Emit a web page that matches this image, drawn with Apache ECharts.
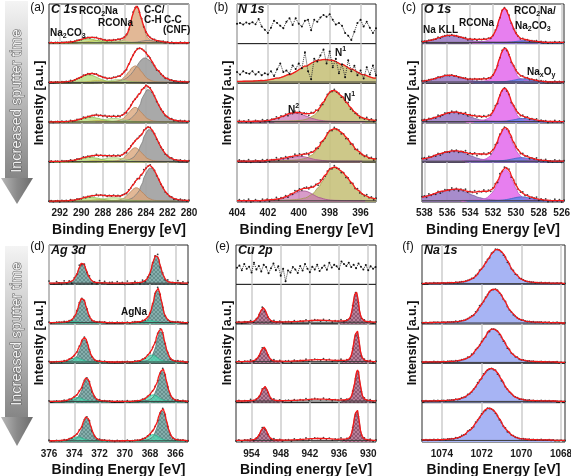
<!DOCTYPE html>
<html>
<head>
<meta charset="utf-8">
<title>XPS depth profile</title>
<script src="https://cdn.jsdelivr.net/npm/echarts@6/dist/echarts.min.js"></script>
<style>html,body{margin:0;padding:0;background:#fff}</style>
</head>
<body>
<div id="main" style="width:571px;height:476px"></div>
<script>
var lineShape = [1.000,0.992,0.969,0.933,0.885,0.829,0.766,0.700,0.632,0.565,0.500,
  0.438,0.381,0.329,0.281,0.239,0.203,0.172,0.145,0.122,0.104,
  0.088,0.076,0.066,0.057,0.051,0.045,0.041,0.037,0.034,0.031,
  0.029,0.027,0.026,0.024,0.023,0.021,0.020,0.019,0.019,0.018,
  0.017,0.016,0.015,0.015,0.014,0.014,0.013,0.012,0.012,0.012];

// components: [centre eV, HWHM high-BE side, HWHM low-BE side, height %], one entry per sputter step
var c1sNa2CO3 = [[289.4,1.0,1.0,10],[289.3,1.0,1.0,19],[289.1,1.1,1.1,12],[289.2,1.1,1.1,11],[289.1,1.1,1.1,10]];
var c1sRCO2Na = [[288.5,0.9,0.9,6],[288.5,0.8,0.8,5],[288.4,0.8,0.8,4],[288.3,0.8,0.8,4],[288.3,0.8,0.8,4]];
var c1sRCONa  = [[286.4,0.8,0.8,5],[286.6,0.9,0.9,7],[287.0,1.2,1.2,9],[287.0,1.2,1.2,10],[287.0,1.2,1.2,9]];
var c1sCCH    = [[284.9,0.55,0.6,90],[285.0,0.75,0.75,42],[285.0,0.75,0.75,37],[285.0,0.75,0.75,35],[284.9,0.75,0.75,34]];
var c1sCNF    = [[283.8,0.8,0.9,6],[284.1,1.0,1.15,62],[283.8,0.8,1.0,82],[283.7,0.8,1.0,81],[283.6,0.8,1.0,84]];
var c1sBg = [2,2,2,2,2];
var c1sTicks = [280,282,284,286,288,290,292];

var n1sN1 = [[398.3,1.8,1.9,0],[398.3,1.8,1.9,57],[397.75,0.8,1.0,78],[397.7,0.9,1.15,82],[397.7,0.9,1.15,84]];
var n1sN2 = [[400.2,1.0,0.9,0],[400.2,1.0,0.9,0],[400.2,1.0,0.9,21],[399.9,1.1,0.8,12],[399.7,0.9,0.8,25]];
var n1sBg = [0,3,3,3,3];
var n1sTicks = [396,398,400,402,404];
// raw counts of the two noisy top spectra, 404 -> 395 eV every 0.2 eV
var n1sRow1 = [50,52,48,53,50,54,49,62,43,35,27,40,58,52,45,39,55,64,47,64,50,43,58,60,34,60,55,66,72,68,74,60,48,52,45,27,20,9,30,52,60,43,55,40,27,39];
var n1sRow2 = [28,22,30,26,24,30,22,28,20,25,22,30,18,35,50,28,32,24,45,36,50,38,78,30,10,62,55,70,85,50,80,40,62,25,48,15,58,30,44,20,32,12,40,22,45,20];

var o1sNaKLL = [[535.7,1.3,1.3,18],[535.8,1.3,1.3,17],[535.4,1.5,1.4,24],[535.3,1.9,1.4,26],[535.3,2.2,1.5,29]];
var o1sRCONa = [[533.0,0.9,0.9,4],[533.0,0.9,0.9,4],[533.1,0.9,0.9,6],[533.0,0.8,0.8,10],[532.9,0.8,0.8,14]];
var o1sMain  = [[531.0,0.6,0.65,86],[531.0,0.6,0.7,84],[531.0,0.7,0.7,82],[530.95,0.75,0.75,82],[530.9,0.8,0.75,80]];
var o1sNaxOy = [[529.3,0.8,0.8,4],[529.4,0.9,0.9,8],[529.4,0.9,0.9,8],[529.5,1.0,1.0,9],[529.5,1.0,1.0,10]];
var o1sBg = [3,3,3,3,3];
var o1sTicks = [526,528,530,532,534,536,538];

var ag3d52   = [[367.5,0.42,0.38,72],[367.4,0.4,0.37,86],[367.15,0.42,0.38,80],[367.0,0.42,0.38,79],[367.0,0.42,0.38,78]];
var ag3d32   = [[373.35,0.42,0.38,52],[373.35,0.4,0.37,62],[373.18,0.42,0.38,59],[373.0,0.42,0.38,58],[373.0,0.42,0.38,59]];
var agNa52   = [[368.0,0.45,0.45,0],[368.0,0.45,0.45,5],[367.85,0.5,0.5,18],[367.75,0.5,0.5,17],[367.75,0.5,0.5,16]];
var agNa32   = [[374.0,0.45,0.45,0],[374.0,0.45,0.45,3],[373.85,0.5,0.5,11],[373.75,0.5,0.5,10],[373.75,0.5,0.5,10]];
var ag3dBg = [3,3,3,3,3];
var ag3dTicks = [366,368,370,372,374,376];

var cu2p32 = [[932.5,0.7,0.6,0],[932.5,0.7,0.6,78],[932.35,0.7,0.6,79],[932.2,0.7,0.6,78],[932.35,0.7,0.6,78]];
var cu2p12 = [[951.8,0.85,0.8,0],[951.6,0.85,0.8,37],[951.5,0.85,0.8,37],[951.3,0.85,0.8,37],[951.5,0.85,0.8,34]];
var cu2pSat = [[940,4,4,0],[940,4,4,5],[940,4,4,5],[940,4,4,5],[940,4,4,5]];
var cu2pBg = [4,4,4,4,4];
var cu2pTicks = [930,936,942,948,954];
// raw counts of the top Cu 2p spectrum, 957 -> 928.5 eV every 0.5 eV
var cu2pRow1 = [42,48,36,52,40,45,30,55,38,47,33,50,44,28,41,53,36,46,22,40,8,35,30,44,38,29,47,35,52,40,31,45,38,50,34,42,48,37,55,43,50,46,39,58,52,47,55,44,50,41,53,45,38,49,36,46,40,44];

var na1sPeak = [[1071.2,0.72,0.65,87],[1071.35,0.72,0.65,86],[1071.4,0.72,0.65,85],[1071.5,0.74,0.65,84],[1071.6,0.76,0.65,82]];
var na1sBg = [2,2,2,3,4];
var na1sTicks = [1068,1070,1072,1074];

// point scatter of the measured counts around the fit
var jitter = [0.3,-0.8,0.6,-0.2,0.9,-0.5,0.1,-1,0.7,-0.3,0.4,-0.7,1,-0.1,0.2,-0.9,0.5,-0.4,0.8,-0.6,0,0.6,-0.2,-0.8,0.9,-0.5,0.3,-0.1,0.7,-1,0.4];

var FONT_N = "'Liberation Sans Narrow','Liberation Sans',Arial,sans-serif";
var FONT = "'Liberation Sans',Arial,sans-serif";

function hatch(base, ink) {
    var cv = document.createElement('canvas');
    cv.width = 4; cv.height = 4;
    var g = cv.getContext('2d');
    g.fillStyle = base; g.fillRect(0, 0, 4, 4);
    g.strokeStyle = ink; g.lineWidth = 0.8;
    g.beginPath(); g.moveTo(0, 0); g.lineTo(4, 4); g.moveTo(4, 0); g.lineTo(0, 4); g.stroke();
    return {image: cv, repeat: 'repeat'};
}

var panels = [
    {left: 49, right: 189, top: 4, rowH: 39.6, min: 280, max: 293, step: 0.1, ticks: c1sTicks, bg: c1sBg,
     amp: [1.5, 1.5, 2, 2, 2], every: 2, margin: 6, nameGap: 21, name: 'Binding Energy [eV]',
     comps: [
        {d: c1sCNF, fill: '#a4a4a4', line: '#7c7c7c', a: 0.95},
        {d: c1sCCH, fill: '#dba67c', line: '#b9845a', a: 0.8},
        {d: c1sRCONa, fill: '#cfe8a4', line: '#a6c77a', a: 0.85},
        {d: c1sRCO2Na, fill: '#e8de7c', line: '#c4b64c', a: 0.8},
        {d: c1sNa2CO3, fill: '#b5dc7c', line: '#8cbc58', a: 0.8}]},
    {left: 237, right: 376, top: 4, rowH: 39.6, min: 395, max: 404, step: 0.05, ticks: n1sTicks, bg: n1sBg,
     amp: [0, 0, 4, 4, 4], every: 3, margin: 6, nameGap: 21, name: 'Binding Energy [eV]',
     raw: {0: n1sRow1, 1: n1sRow2}, rawX: [404, -0.2],
     comps: [
        {d: n1sN1, fill: '#c8c27c', line: '#a29a4e', a: 0.9},
        {d: n1sN2, fill: '#c872b4', line: '#a45090', a: 0.7}]},
    {left: 422, right: 564, top: 4, rowH: 39.6, min: 525.8, max: 538.2, step: 0.1, ticks: o1sTicks, bg: o1sBg,
     amp: [2, 2, 3, 3.5, 4], every: 2, margin: 6, nameGap: 21, name: 'Binding Energy [eV]',
     comps: [
        {d: o1sNaKLL, fill: '#9d80c6', line: '#7a5ea6', a: 0.9},
        {d: o1sRCONa, fill: null},
        {d: o1sMain, fill: '#e77fef', line: '#c45ccc', a: 1},
        {d: o1sNaxOy, fill: '#5f84e6', line: '#3e62c4', a: 0.85}]},
    {left: 49, right: 188, top: 245, rowH: 39.4, min: 365, max: 376, step: 0.05, ticks: ag3dTicks, bg: ag3dBg,
     amp: [6, 1.5, 1.5, 1.5, 1.5], every: 4, margin: 7, nameGap: 21, name: 'Binding Energy [eV]',
     comps: [
        {d: ag3d52, fill: hatch('#86aeac', '#5f8785'), line: '#4f7775', a: 1},
        {d: ag3d32, fill: hatch('#86aeac', '#5f8785'), line: '#4f7775', a: 1},
        {d: agNa52, fill: '#4fdcb4', line: '#2cb890', a: 0.7},
        {d: agNa32, fill: '#4fdcb4', line: '#2cb890', a: 0.7}]},
    {left: 236, right: 376, top: 245, rowH: 39.4, min: 928.4, max: 957.2, step: 0.2, ticks: cu2pTicks, bg: cu2pBg,
     amp: [0, 3, 3, 3, 3], every: 3, margin: 7, nameGap: 21, name: 'Binding energy [eV]',
     raw: {0: cu2pRow1}, rawX: [957, -0.5],
     comps: [
        {d: cu2pSat, fill: null},
        {d: cu2p32, fill: hatch('#b98099', '#85516a'), line: '#7a4560', a: 1},
        {d: cu2p12, fill: hatch('#b98099', '#85516a'), line: '#7a4560', a: 1}]},
    {left: 422, right: 565, top: 245, rowH: 39.4, min: 1067.8, max: 1075, step: 0.05, ticks: na1sTicks, bg: na1sBg,
     amp: [1, 1, 1, 1, 1], every: 2, margin: 7, nameGap: 21, name: 'Binding Energy [eV]',
     comps: [
        {d: na1sPeak, fill: '#a7b4f4', line: '#7f8fe0', a: 1}]}
];

function shapeIndex(p, x) {
    return Math.round(Math.abs(x - p[0]) / (x >= p[0] ? p[1] : p[2]) * 10);
}

var grids = [], xAxes = [], yAxes = [], series = [];

panels.forEach(function (P) {
    var n = Math.round((P.max - P.min) / P.step), xs = [];
    for (var i = 0; i <= n; i++) xs.push(+(P.min + i * P.step).toFixed(3));
    for (var r = 0; r < 5; r++) {
        var gi = grids.length, last = r === 4, bg = P.bg[r];
        grids.push({left: P.left, top: +(P.top + r * P.rowH).toFixed(1), width: P.right - P.left, height: P.rowH,
            show: true, borderColor: '#2b2b2b', borderWidth: 1, containLabel: false, outerBoundsMode: 'none'});
        xAxes.push({gridIndex: gi, type: 'value', min: P.min, max: P.max, inverse: true,
            axisLine: {show: false},
            axisTick: {show: false, customValues: P.ticks},
            axisLabel: {show: last, customValues: P.ticks, margin: P.margin, fontFamily: FONT_N, fontWeight: 'bold',
                fontSize: 10, color: '#1a1a1a', showMinLabel: true, showMaxLabel: true,
                formatter: function (v) { return String(v); }},
            splitLine: {show: true, lineStyle: {color: '#cdcdcd', width: 1.5}},
            name: last ? P.name : '', nameLocation: 'middle', nameGap: P.nameGap,
            nameTextStyle: {fontFamily: FONT_N, fontWeight: 'bold', fontSize: 14, color: '#111'}});
        yAxes.push({gridIndex: gi, type: 'value', min: 0, max: 100, show: false});

        var active = P.comps.filter(function (c) { return c.d[r][3] > 0; });
        active.forEach(function (c) {
            if (!c.fill) return;
            var p = c.d[r], pts = [];
            xs.forEach(function (x) {
                var k = shapeIndex(p, x);
                if (k < lineShape.length) pts.push([x, +(bg + p[3] * lineShape[k]).toFixed(2)]);
            });
            series.push({type: 'line', xAxisIndex: gi, yAxisIndex: gi, data: pts, showSymbol: false, silent: true, z: 2,
                lineStyle: {color: c.line, width: 0.8}, areaStyle: {color: c.fill, opacity: c.a}});
        });
        var raw = P.raw && P.raw[r];
        if (active.length) {
            var env = xs.map(function (x) {
                var s = bg;
                active.forEach(function (c) {
                    var k = shapeIndex(c.d[r], x);
                    if (k < lineShape.length) s += c.d[r][3] * lineShape[k];
                });
                return [x, +s.toFixed(2)];
            });
            series.push({type: 'line', xAxisIndex: gi, yAxisIndex: gi, data: [[P.min, bg], [P.max, bg]],
                showSymbol: false, silent: true, z: 3, lineStyle: {color: '#3c3c3c', width: 1}});
            if (!raw) {
                var dots = env.filter(function (e, i) { return i % P.every === 0; })
                    .map(function (e, i) { return [e[0], e[1] + jitter[i % jitter.length] * P.amp[r]]; });
                series.push({type: 'scatter', xAxisIndex: gi, yAxisIndex: gi, data: dots, symbolSize: 1.8,
                    silent: true, z: 3, itemStyle: {color: '#111'}});
            }
            series.push({type: 'line', xAxisIndex: gi, yAxisIndex: gi, data: env, showSymbol: false, silent: true, z: 4,
                lineStyle: {color: '#f41a1a', width: 1.3}});
        }
        if (raw) {
            series.push({type: 'line', xAxisIndex: gi, yAxisIndex: gi, silent: true, z: 5,
                data: raw.map(function (v, i) { return [+(P.rawX[0] + P.rawX[1] * i).toFixed(2), v]; }),
                showSymbol: true, symbol: 'circle', symbolSize: 2, itemStyle: {color: '#111'},
                lineStyle: {type: 'dotted', color: '#333', width: 1}});
        }
    }
});

function txt(x, y, text, size, extra) {
    var st = {text: text, x: 0, y: 0, fill: '#111', fontFamily: FONT_N, fontWeight: 'bold', fontSize: size,
        align: 'left', verticalAlign: 'middle'};
    for (var k in extra) st[k] = extra[k];
    return {type: 'text', x: x, y: y, z: 100, style: st};
}
var richSub = {
    m: {fontFamily: FONT_N, fontWeight: 'bold', fontSize: 10, lineHeight: 14, fill: '#111', verticalAlign: 'middle'},
    s: {fontFamily: FONT_N, fontWeight: 'bold', fontSize: 7, lineHeight: 7, fill: '#111', verticalAlign: 'bottom'},
    p: {fontFamily: FONT_N, fontWeight: 'bold', fontSize: 7, lineHeight: 7, fill: '#111', verticalAlign: 'top'}
};
function rtxt(x, y, text) { return txt(x, y, text, 10, {rich: richSub}); }
function arrow(top, headY, tipY, midY) {
    return [
        {type: 'polygon', z: 90, shape: {points: [[5, top], [28, top], [28, headY], [5, headY]]},
         style: {fill: {type: 'linear', x: 0, y: 0, x2: 0, y2: 1, colorStops: [
             {offset: 0, color: '#f4f4f4'}, {offset: 0.5, color: '#c0c0c0'}, {offset: 1, color: '#868686'}]}}},
        {type: 'polygon', z: 90, shape: {points: [[1, headY], [33, headY], [17, tipY]]},
         style: {fill: {type: 'linear', x: 0, y: 0, x2: 1, y2: 0, colorStops: [
             {offset: 0, color: '#b8b8b8'}, {offset: 0.5, color: '#8a8a8a'}, {offset: 1, color: '#6c6c6c'}]}}},
        {type: 'text', x: 17, y: midY, rotation: Math.PI / 2, z: 95,
         style: {text: 'Increased sputter time', fontFamily: FONT, fontSize: 14.5, fill: '#f2f2f2',
             stroke: '#5e5e5e', lineWidth: 1, align: 'center', verticalAlign: 'middle'}}
    ];
}
function ytitle(x, y) {
    return {type: 'text', x: x, y: y, rotation: Math.PI / 2, z: 100,
        style: {text: 'Intensity [a.u.]', fontFamily: FONT_N, fontWeight: 'bold', fontSize: 12.5, fill: '#111',
            align: 'center', verticalAlign: 'middle'}};
}
function plabel(x, y, t) {
    return {type: 'text', x: x, y: y, z: 100,
        style: {text: t, fontFamily: FONT, fontSize: 12, fill: '#111', align: 'center', verticalAlign: 'middle'}};
}
var TITLE = {fontSize: 12.5, fontStyle: 'italic'};

var graphics = [].concat(
    arrow(1, 178, 204, 101), arrow(246, 417, 446, 334),
    [ytitle(40, 103), ytitle(227.5, 103), ytitle(412.5, 103),
     ytitle(40, 343), ytitle(227.5, 343), ytitle(412.5, 343),
     plabel(37.5, 8, '(a)'), plabel(221, 8, '(b)'), plabel(409, 8, '(c)'),
     plabel(37.5, 247, '(d)'), plabel(222.5, 247, '(e)'), plabel(408, 247, '(f)'),
     txt(51, 10, 'C 1s', 12.5, TITLE), txt(238, 10, 'N 1s', 12.5, TITLE), txt(424, 10, 'O 1s', 12.5, TITLE),
     txt(51, 251, 'Ag 3d', 12.5, TITLE), txt(238, 251, 'Cu 2p', 12.5, TITLE), txt(424, 251, 'Na 1s', 12.5, TITLE),
     rtxt(79, 11, '{m|RCO}{s|2}{m|Na}'), rtxt(50, 33, '{m|Na}{s|2}{m|CO}{s|3}'), txt(98, 23, 'RCONa', 10),
     txt(144, 10, 'C-C/', 10), txt(144, 20, 'C-H', 10), txt(164, 20, 'C-C', 10), txt(163, 30, '(CNF)', 10),
     rtxt(335, 53, '{m|N}{p|1}'), rtxt(288, 110, '{m|N}{p|2}'), rtxt(344, 98, '{m|N}{p|1}'),
     txt(423, 30, 'Na KLL', 10), txt(459, 23, 'RCONa', 10), rtxt(514, 11, '{m|RCO}{s|2}{m|Na/}'),
     rtxt(515, 26, '{m|Na}{s|2}{m|CO}{s|3}'), rtxt(527, 72, '{m|Na}{s|x}{m|O}{s|y}'),
     txt(121, 312, 'AgNa', 10)]
);

var chart = echarts.init(document.getElementById('main'));
chart.setOption({
    animation: false,
    grid: grids,
    xAxis: xAxes,
    yAxis: yAxes,
    series: series,
    graphic: graphics
});
</script>
</body>
</html>
